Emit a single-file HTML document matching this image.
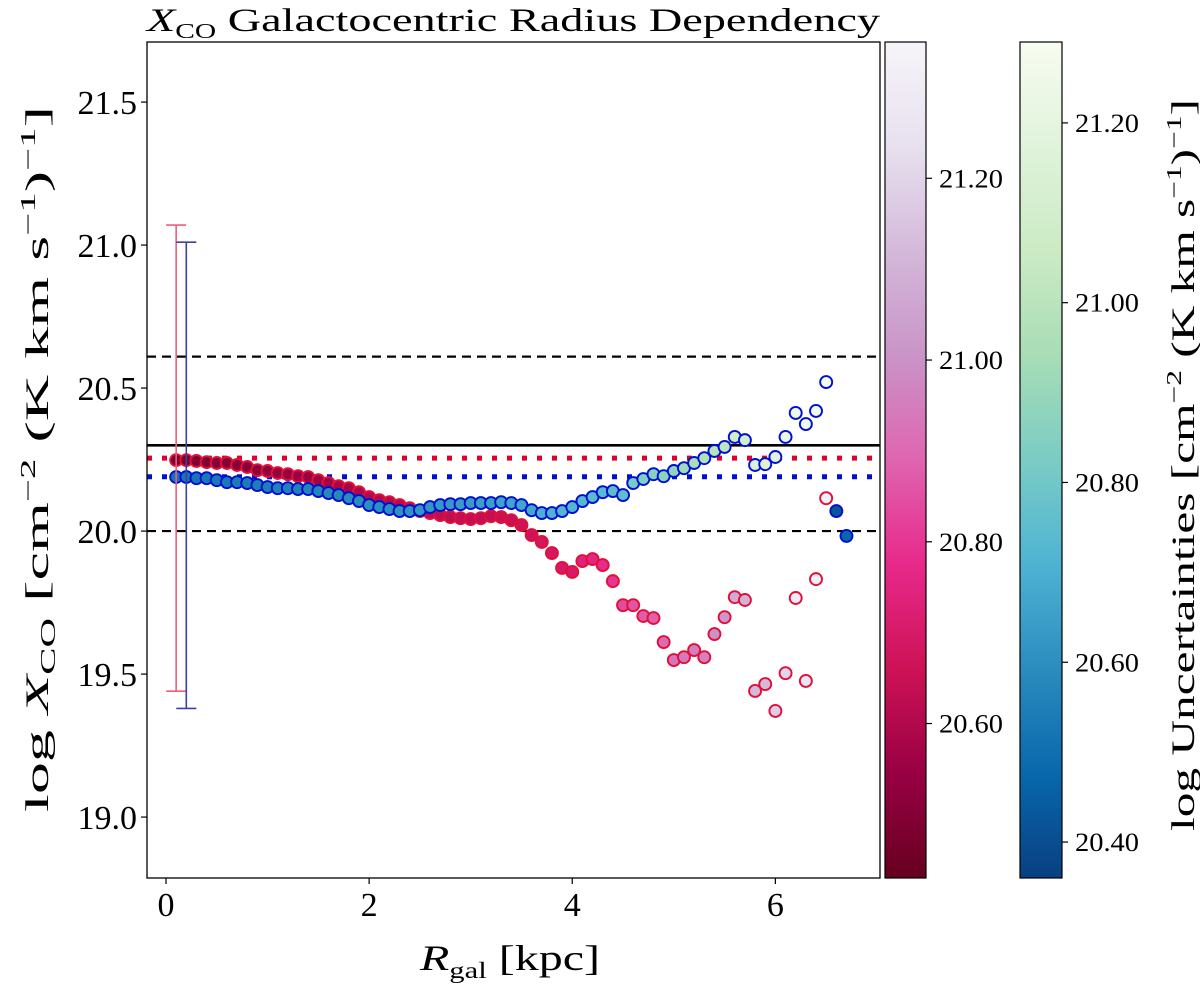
<!DOCTYPE html>
<html><head><meta charset="utf-8"><style>
body{margin:0;background:#fff;overflow:hidden}
svg{display:block;font-family:"Liberation Serif","DejaVu Serif",serif}
</style></head><body>
<svg id="chart" width="1200" height="988" viewBox="0 0 1200 988" xmlns="http://www.w3.org/2000/svg">
<defs>
<linearGradient id="cmRed" x1="0" y1="1" x2="0" y2="0">
<stop offset="0" stop-color="#67001f"/><stop offset="0.125" stop-color="#980043"/><stop offset="0.25" stop-color="#ce1256"/><stop offset="0.375" stop-color="#e7298a"/><stop offset="0.5" stop-color="#df65b0"/><stop offset="0.625" stop-color="#c994c7"/><stop offset="0.75" stop-color="#d4b9da"/><stop offset="0.875" stop-color="#e7e1ef"/><stop offset="1" stop-color="#f7f4f9"/>
</linearGradient>
<linearGradient id="cmBlue" x1="0" y1="1" x2="0" y2="0">
<stop offset="0" stop-color="#084081"/><stop offset="0.125" stop-color="#0868ac"/><stop offset="0.25" stop-color="#2b8cbe"/><stop offset="0.375" stop-color="#4eb3d3"/><stop offset="0.5" stop-color="#7bccc4"/><stop offset="0.625" stop-color="#a8ddb5"/><stop offset="0.75" stop-color="#ccebc5"/><stop offset="0.875" stop-color="#e0f3db"/><stop offset="1" stop-color="#f7fcf0"/>
</linearGradient>
</defs>
<g id="layer-lines"></g>
<g id="layer-points"></g>
<g id="layer-err"></g>
<rect x="147" y="42" width="733" height="836" fill="none" stroke="#000" stroke-width="1.3"/>
<g id="layer-axes"></g>
<text x="147" y="31" font-size="33" textLength="733" lengthAdjust="spacingAndGlyphs"><tspan font-style="italic">X</tspan><tspan font-size="21" dy="7">CO</tspan><tspan dy="-7"> Galactocentric Radius Dependency</tspan></text>
<text x="420" y="970" font-size="36" textLength="180" lengthAdjust="spacingAndGlyphs"><tspan font-style="italic">R</tspan><tspan font-size="23" dy="8">gal</tspan><tspan dy="-8"> [kpc]</tspan></text>
<text transform="translate(48,812) rotate(-90)" font-size="33" textLength="706" lengthAdjust="spacingAndGlyphs">log <tspan font-style="italic">X</tspan><tspan font-size="21" dy="7">CO</tspan><tspan dy="-7"> [cm</tspan><tspan font-size="21" dy="-13">−2</tspan><tspan dy="13"> (K km s</tspan><tspan font-size="21" dy="-13">−1</tspan><tspan dy="13">)</tspan><tspan font-size="21" dy="-13">−1</tspan><tspan dy="13">]</tspan></text>
<rect x="885" y="42" width="41" height="836" fill="url(#cmRed)" stroke="#000" stroke-width="1.2"/>
<rect x="1020" y="42" width="42" height="836" fill="url(#cmBlue)" stroke="#000" stroke-width="1.2"/>
<g id="layer-cb"></g>
<text transform="translate(1194,831) rotate(-90)" font-size="33" textLength="732" lengthAdjust="spacingAndGlyphs">log Uncertainties [cm<tspan font-size="21" dy="-13">−2</tspan><tspan dy="13"> (K km s</tspan><tspan font-size="21" dy="-13">−1</tspan><tspan dy="13">)</tspan><tspan font-size="21" dy="-13">−1</tspan><tspan dy="13">]</tspan></text>
</svg>
<script>
const redR = [0.1,0.2,0.3,0.4,0.5,0.6,0.7,0.8,0.9,1.0,1.1,1.2,1.3,1.4,1.5,1.6,1.7,1.8,1.9,2.0,2.1,2.2,2.3,2.4,2.5,2.6,2.7,2.8,2.9,3.0,3.1,3.2,3.3,3.4,3.5,3.6,3.7,3.8,3.9,4.0,4.1,4.2,4.3,4.4,4.5,4.6,4.7,4.8,4.9,5.0,5.1,5.2,5.3,5.4,5.5,5.6,5.7,5.8,5.9,6.0,6.1,6.2,6.3,6.4,6.5];
const redX = [20.248,20.248,20.245,20.241,20.238,20.238,20.231,20.224,20.213,20.210,20.203,20.199,20.192,20.189,20.178,20.168,20.157,20.150,20.136,20.119,20.108,20.101,20.091,20.080,20.070,20.063,20.056,20.049,20.045,20.042,20.045,20.052,20.049,20.038,20.021,19.986,19.962,19.923,19.871,19.857,19.895,19.902,19.881,19.825,19.741,19.741,19.703,19.696,19.612,19.549,19.559,19.584,19.559,19.640,19.699,19.769,19.759,19.441,19.465,19.371,19.503,19.766,19.476,19.832,20.115];
const redU = [20.48,20.48,20.49,20.49,20.50,20.50,20.51,20.51,20.52,20.53,20.53,20.54,20.55,20.55,20.56,20.57,20.58,20.58,20.59,20.60,20.60,20.61,20.61,20.62,20.62,20.63,20.63,20.63,20.64,20.64,20.64,20.64,20.65,20.65,20.66,20.67,20.68,20.69,20.70,20.70,20.74,20.76,20.78,20.80,20.84,20.86,20.87,20.88,20.91,20.93,20.94,20.95,20.96,21.00,21.02,21.08,21.10,21.12,21.12,21.18,21.20,21.30,21.26,21.32,21.33];
const bluR = [0.1,0.2,0.3,0.4,0.5,0.6,0.7,0.8,0.9,1.0,1.1,1.2,1.3,1.4,1.5,1.6,1.7,1.8,1.9,2.0,2.1,2.2,2.3,2.4,2.5,2.6,2.7,2.8,2.9,3.0,3.1,3.2,3.3,3.4,3.5,3.6,3.7,3.8,3.9,4.0,4.1,4.2,4.3,4.4,4.5,4.6,4.7,4.8,4.9,5.0,5.1,5.2,5.3,5.4,5.5,5.6,5.7,5.8,5.9,6.0,6.1,6.2,6.3,6.4,6.5,6.6,6.7];
const bluX = [20.189,20.189,20.185,20.185,20.178,20.171,20.171,20.168,20.161,20.154,20.150,20.150,20.147,20.147,20.140,20.133,20.126,20.115,20.105,20.091,20.084,20.077,20.070,20.070,20.073,20.084,20.091,20.094,20.094,20.098,20.098,20.098,20.101,20.098,20.091,20.073,20.063,20.063,20.070,20.084,20.105,20.119,20.136,20.140,20.126,20.168,20.182,20.199,20.192,20.210,20.220,20.238,20.255,20.280,20.294,20.329,20.318,20.231,20.234,20.259,20.329,20.413,20.374,20.420,20.521,20.070,19.983];
const bluU = [20.52,20.52,20.52,20.53,20.53,20.53,20.54,20.54,20.55,20.55,20.56,20.56,20.56,20.57,20.57,20.58,20.58,20.59,20.59,20.60,20.60,20.60,20.61,20.61,20.62,20.62,20.63,20.63,20.64,20.64,20.65,20.65,20.66,20.66,20.67,20.68,20.70,20.71,20.72,20.72,20.73,20.74,20.74,20.75,20.76,20.82,20.84,20.86,20.87,20.88,20.92,20.95,20.97,21.00,21.02,21.08,21.10,21.15,21.16,21.18,21.22,21.24,21.24,21.26,21.28,20.42,20.47];
const hLines = [20.61, 20.30, 20.00];
const meanRed = 20.255, meanBlue = 20.19;
const errRed = [0.1, 19.44, 21.07];
const errBlue = [0.2, 19.38, 21.01];
const yTicks = [19.0, 19.5, 20.0, 20.5, 21.0, 21.5];
const xTicks = [0, 2, 4, 6];
const cbRedTicks = [20.60, 20.80, 21.00, 21.20];
const cbBlueTicks = [20.40, 20.60, 20.80, 21.00, 21.20];

const NS='http://www.w3.org/2000/svg';
const X0=147,X1=880,Y0=878,Y1=42, xmin=-0.187,xmax=7.03,ymin=18.787,ymax=21.71;
const sx=v=>X0+(v-xmin)/(xmax-xmin)*(X1-X0);
const sy=v=>Y0-(v-ymin)/(ymax-ymin)*(Y0-Y1);
const cbR=[20.43,21.35], cbB=[20.36,21.29];
const cbY=(v,r)=>878-(v-r[0])/(r[1]-r[0])*836;
const redStops=['#67001f','#980043','#ce1256','#e7298a','#df65b0','#c994c7','#d4b9da','#e7e1ef','#f7f4f9'];
const bluStops=['#084081','#0868ac','#2b8cbe','#4eb3d3','#7bccc4','#a8ddb5','#ccebc5','#e0f3db','#f7fcf0'];
function hex(h){return [1,3,5].map(i=>parseInt(h.substr(i,2),16));}
function cmap(stops,t){t=Math.max(0,Math.min(1,t));const p=t*(stops.length-1),i=Math.min(Math.floor(p),stops.length-2),f=p-i;const a=hex(stops[i]),b=hex(stops[i+1]);return 'rgb('+a.map((c,k)=>Math.round(c+(b[k]-c)*f)).join(',')+')';}
function mk(tag,attrs,parent){const e=document.createElementNS(NS,tag);for(const k in attrs)e.setAttribute(k,attrs[k]);parent.appendChild(e);return e;}
const gL=document.getElementById('layer-lines'),gP=document.getElementById('layer-points'),gE=document.getElementById('layer-err'),gA=document.getElementById('layer-axes'),gC=document.getElementById('layer-cb');

hLines.forEach((v,i)=>{
  const l=mk('line',{x1:X0,x2:X1,y1:sy(v),y2:sy(v),stroke:'#000','stroke-width':i===1?2.6:2.2,'stroke-dasharray':i===1?'none':'9,6'},gL);
  
  
});
[[meanRed,'#e0002a','mean-line-red'],[meanBlue,'#0010d0','mean-line-blue']].forEach(m=>{
  const l=mk('line',{x1:X0,x2:X1,y1:sy(m[0]),y2:sy(m[0]),stroke:m[1],'stroke-width':5,'stroke-dasharray':'5,10'},gL);
  
  
});
redR.forEach((r,i)=>{
  const c=mk('circle',{cx:sx(r),cy:sy(redX[i]),r:6,fill:cmap(redStops,(redU[i]-cbR[0])/(cbR[1]-cbR[0])),stroke:'#e0103a','stroke-width':1.9},gP);
  
  
});
bluR.forEach((r,i)=>{
  const c=mk('circle',{cx:sx(r),cy:sy(bluX[i]),r:6,fill:cmap(bluStops,(bluU[i]-cbB[0])/(cbB[1]-cbB[0])),stroke:'#0010d0','stroke-width':1.9},gP);
  
  
});
[[errRed,'#e8607a'],[errBlue,'#4040a0']].forEach((e,k)=>{
  const x=sx(e[0][0]);
  const g=mk('g',{},gE);
  
  
  mk('line',{x1:x,x2:x,y1:sy(e[0][1]),y2:sy(e[0][2]),stroke:e[1],'stroke-width':1.6},g);
  mk('line',{x1:x-10,x2:x+10,y1:sy(e[0][1]),y2:sy(e[0][1]),stroke:e[1],'stroke-width':1.6},g);
  mk('line',{x1:x-10,x2:x+10,y1:sy(e[0][2]),y2:sy(e[0][2]),stroke:e[1],'stroke-width':1.6},g);
});
yTicks.forEach(v=>{
  mk('line',{x1:X0-6,x2:X0,y1:sy(v),y2:sy(v),stroke:'#000','stroke-width':1.2},gA);
  const t=mk('text',{x:X0-10,y:sy(v)+12,'font-size':34,'text-anchor':'end'},gA);
  t.textContent=v.toFixed(1);
  
  
});
xTicks.forEach(v=>{
  mk('line',{x1:sx(v),x2:sx(v),y1:Y0,y2:Y0+6,stroke:'#000','stroke-width':1.2},gA);
  const t=mk('text',{x:sx(v),y:Y0+38,'font-size':34,'text-anchor':'middle'},gA);
  t.textContent=String(v);
  
  
});
cbRedTicks.forEach(v=>{
  const y=cbY(v,cbR);
  mk('line',{x1:926,x2:932,y1:y,y2:y,stroke:'#000','stroke-width':1.2},gC);
  const t=mk('text',{x:939,y:y+9,'font-size':26,'textLength':64,'lengthAdjust':'spacingAndGlyphs'},gC);
  t.textContent=v.toFixed(2);
  
  
});
cbBlueTicks.forEach(v=>{
  const y=cbY(v,cbB);
  mk('line',{x1:1062,x2:1068,y1:y,y2:y,stroke:'#000','stroke-width':1.2},gC);
  const t=mk('text',{x:1075,y:y+9,'font-size':26,'textLength':64,'lengthAdjust':'spacingAndGlyphs'},gC);
  t.textContent=v.toFixed(2);
  
  
});
</script>
</body></html>
